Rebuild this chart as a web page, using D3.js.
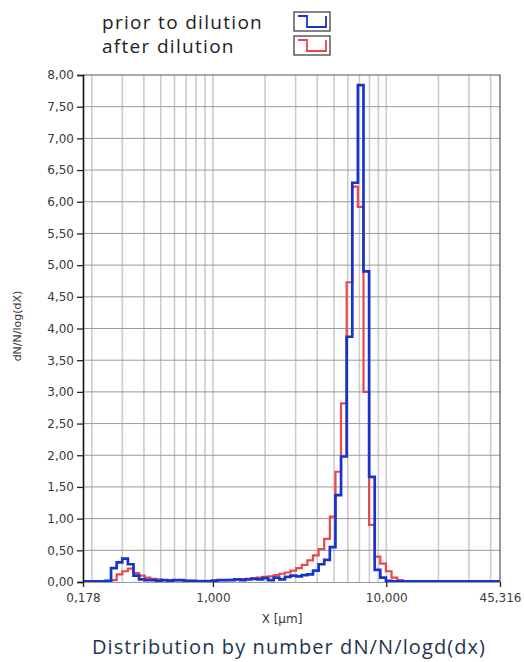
<!DOCTYPE html>
<html>
  <body style="margin:0;background:#fff">
    <script src="https://d3js.org/d3.v7.min.js"></script>
    <script type="text/javascript">
      const width = 524;
      const height = 662;
      const plot = { left: 83, right: 500, top: 75, bottom: 582 };

      // lower edge of every size class (µm), last entry closes the final class
      const binEdges = [
        0.178, 0.1918, 0.2066, 0.2226, 0.2398, 0.2584, 0.2784, 0.2999, 0.3231, 0.3481,
        0.3750, 0.4041, 0.4353, 0.4690, 0.5053, 0.5444, 0.5865, 0.6319, 0.6808, 0.7335,
        0.7902, 0.8513, 0.9172, 0.9881, 1.0646, 1.1470, 1.2357, 1.3313, 1.4343, 1.5453,
        1.6649, 1.7936, 1.9324, 2.0820, 2.2430, 2.4166, 2.6036, 2.8050, 3.0220, 3.2559,
        3.5077, 3.7791, 4.0715, 4.3865, 4.7259, 5.0916, 5.4855, 5.9099, 6.3672, 6.8598,
        7.3905, 7.9624, 8.5785, 9.2422, 9.9572, 10.728, 11.558, 12.452, 13.415, 14.454,
        15.572, 16.776, 18.074, 19.473, 20.979, 22.602, 24.351, 26.235, 28.265, 30.452,
        32.808, 35.346, 38.081, 41.027, 44.201, 45.316
      ];
      const priorValues = [
        0.01, 0.01, 0.01, 0.01, 0.02, 0.22, 0.31, 0.37, 0.28, 0.10,
        0.04, 0.03, 0.03, 0.02, 0.03, 0.02, 0.03, 0.03, 0.02, 0.02,
        0.01, 0.01, 0.01, 0.02, 0.03, 0.03, 0.03, 0.04, 0.03, 0.04,
        0.05, 0.04, 0.06, 0.03, 0.07, 0.04, 0.08, 0.10, 0.09, 0.11,
        0.12, 0.18, 0.28, 0.35, 0.55, 1.37, 1.98, 3.87, 6.30, 7.84,
        4.90, 1.66, 0.19, 0.07, 0.02, 0.01, 0.01, 0.01, 0.01, 0.01,
        0.01, 0.01, 0.01, 0.01, 0.01, 0.01, 0.01, 0.01, 0.01, 0.01,
        0.01, 0.01, 0.01, 0.01, 0.01
      ];
      const afterValues = [
        0.005, 0.005, 0.005, 0.005, 0.005, 0.03, 0.12, 0.17, 0.21, 0.14,
        0.10, 0.07, 0.05, 0.04, 0.03, 0.03, 0.03, 0.03, 0.02, 0.02,
        0.02, 0.02, 0.02, 0.025, 0.03, 0.03, 0.035, 0.04, 0.045, 0.05,
        0.06, 0.07, 0.08, 0.09, 0.11, 0.13, 0.15, 0.18, 0.22, 0.27,
        0.34, 0.42, 0.52, 0.68, 1.03, 1.74, 2.82, 4.73, 6.24, 5.92,
        3.00, 0.90, 0.40, 0.29, 0.17, 0.07, 0.03, 0.01, 0.005, 0.005,
        0.005, 0.005, 0.005, 0.005, 0.005, 0.005, 0.005, 0.005, 0.005, 0.005,
        0.005, 0.005, 0.005, 0.005, 0.005
      ];
      const yTicks = [0, 0.5, 1, 1.5, 2, 2.5, 3, 3.5, 4, 4.5, 5, 5.5, 6, 6.5, 7, 7.5, 8];
      const xTickLabels = [0.178, 1, 10, 45.316];
      const series = [
        { label: 'prior to dilution', values: priorValues, color: '#1735c6' },
        { label: 'after dilution', values: afterValues, color: '#e8474c' },
      ];

      const fmt = (d, n) => d.toFixed(n).replace('.', ',');

      const scaleX = d3.scaleLog()
        .domain([binEdges[0], binEdges[binEdges.length - 1]])
        .range([plot.left, plot.right]);
      const scaleY = d3.scaleLinear()
        .domain([0, 8])
        .range([plot.bottom, plot.top]);

      const svg = d3.select('body')
        .append('svg')
        .attr('width', width)
        .attr('height', height)
        .style('font-family', 'DejaVu Sans, Verdana, sans-serif');

      // grid
      svg.append('g')
        .selectAll('line')
        .data(scaleX.ticks().filter((d) => d > binEdges[0] && d < 45))
        .enter()
        .append('line')
        .attr('x1', (d) => scaleX(d))
        .attr('x2', (d) => scaleX(d))
        .attr('y1', plot.top)
        .attr('y2', plot.bottom)
        .attr('stroke', '#cccccc')
        .attr('stroke-width', 1.6);
      svg.append('g')
        .selectAll('line')
        .data(yTicks.slice(1, -1))
        .enter()
        .append('line')
        .attr('x1', plot.left)
        .attr('x2', plot.right)
        .attr('y1', (d) => scaleY(d))
        .attr('y2', (d) => scaleY(d))
        .attr('stroke', '#9a9a9a')
        .attr('stroke-width', 1);

      // frame
      svg.append('path')
        .attr('d', `M${plot.left},${plot.top}H${plot.right}V${plot.bottom}`)
        .attr('fill', 'none')
        .attr('stroke', '#555')
        .attr('stroke-width', 1.2);

      // step lines, red first so blue sits on top
      const line = d3.line()
        .x((d) => scaleX(d[0]))
        .y((d) => scaleY(d[1]))
        .curve(d3.curveStepAfter);
      series.slice().reverse().forEach((s) => {
        const pts = binEdges.map((e, i) => [e, s.values[Math.min(i, s.values.length - 1)]]);
        svg.append('path')
          .datum(pts)
          .attr('d', line)
          .attr('fill', 'none')
          .attr('stroke', s.color)
          .attr('stroke-width', s.label === 'after dilution' ? 2.2 : 2.7);
      });

      // axes
      const axisLeft = d3.axisLeft(scaleY)
        .tickValues(yTicks)
        .tickFormat((d) => fmt(d, 2))
        .tickSize(6)
        .tickPadding(3);
      const gy = svg.append('g')
        .attr('transform', `translate(${plot.left}, 0)`)
        .call(axisLeft);
      gy.select('.domain').attr('stroke', '#111').attr('stroke-width', 1.6);
      gy.selectAll('.tick line').attr('stroke', '#222').attr('stroke-width', 1.3);
      gy.selectAll('text').attr('font-size', 12).attr('fill', '#3a3a3a')
        .attr('font-family', 'DejaVu Sans, sans-serif');

      const axisBottom = d3.axisBottom(scaleX)
        .tickValues(xTickLabels)
        .tickFormat((d) => fmt(d, 3))
        .tickSize(5)
        .tickPadding(6);
      const gx = svg.append('g')
        .attr('transform', `translate(0, ${plot.bottom})`)
        .call(axisBottom);
      gx.select('.domain').attr('stroke', '#999').attr('stroke-width', 1);
      gx.selectAll('.tick line').attr('stroke', '#222').attr('stroke-width', 1.3);
      gx.selectAll('text').attr('font-size', 12).attr('fill', '#3a3a3a')
        .attr('font-family', 'DejaVu Sans, sans-serif');

      svg.append('text')
        .attr('x', 282)
        .attr('y', 623)
        .attr('text-anchor', 'middle')
        .attr('font-size', 12)
        .attr('fill', '#3a3a3a')
        .text('X [µm]');
      svg.append('text')
        .attr('transform', 'translate(21, 326) rotate(-90)')
        .attr('text-anchor', 'middle')
        .attr('font-size', 11)
        .attr('fill', '#3a3a3a')
        .text('dN/N/log(dX)');

      // legend
      const legend = svg.append('g')
        .selectAll('g')
        .data(series)
        .enter()
        .append('g')
        .attr('transform', (d, i) => `translate(0, ${i * 24})`);
      legend.append('text')
        .attr('x', 102)
        .attr('y', 29)
        .attr('font-family', 'Open Sans, sans-serif')
        .attr('font-size', 19)
        .attr('letter-spacing', 1.3)
        .attr('fill', '#222')
        .text((d) => d.label);
      legend.append('rect')
        .attr('x', 294)
        .attr('y', 12)
        .attr('width', 36)
        .attr('height', 19)
        .attr('fill', '#fff')
        .attr('stroke', '#333')
        .attr('stroke-width', 1.2);
      legend.append('path')
        .attr('d', 'M298,16H307V27H326V16')
        .attr('fill', 'none')
        .attr('stroke', (d) => d.color)
        .attr('stroke-width', 1.8);

      svg.append('text')
        .attr('x', 289)
        .attr('y', 654)
        .attr('text-anchor', 'middle')
        .attr('font-family', 'Open Sans, sans-serif')
        .attr('font-size', 20)
        .attr('letter-spacing', 1.1)
        .attr('fill', '#1f3550')
        .text('Distribution by number dN/N/logd(dx)');
    </script>
  </body>
</html>
